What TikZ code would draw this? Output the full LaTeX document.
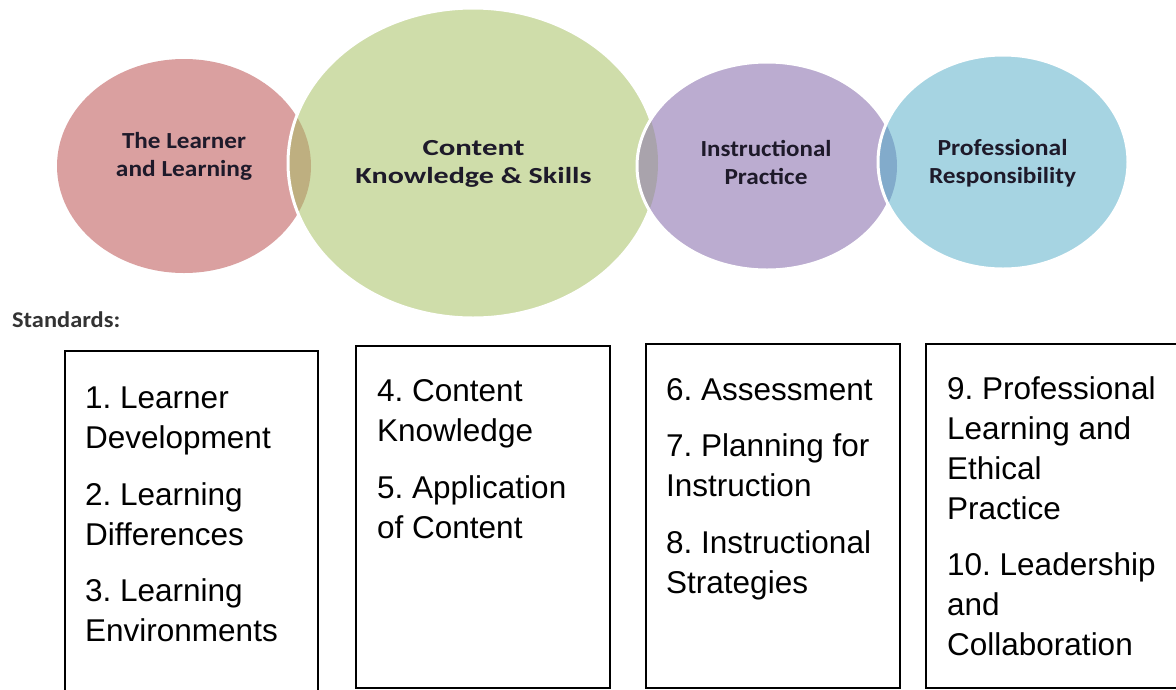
\documentclass[tikz,border=0pt]{standalone}
\usepackage{fontspec}
\setmainfont{Liberation Sans}
\newfontfamily\calib{Carlito}
\usepackage{graphicx}
\frenchspacing
\definecolor{cpink}{HTML}{DAA0A0}
\definecolor{cgreen}{HTML}{CFDDAA}
\definecolor{cpurple}{HTML}{BBACD0}
\definecolor{cblue}{HTML}{A6D4E2}
\definecolor{lpg}{HTML}{BEAF80}
\definecolor{lgp}{HTML}{A9A3AC}
\definecolor{lpb}{HTML}{82ABCB}
\definecolor{labelcol}{HTML}{1E1A2A}
\definecolor{stdcol}{HTML}{333333}
\tikzset{
  vennedge/.style={draw=white, line width=3pt},
  clabel/.style={font=\calib\bfseries\fontsize{23}{28}\selectfont, text=labelcol, align=center, inner sep=0pt, anchor=north},
  stdbox/.style={draw=black, line width=1.8pt, inner sep=0pt, anchor=north west},
  stdtext/.style={font=\frenchspacing\fontsize{31.5}{40}\selectfont, align=left, inner sep=0pt, anchor=north west},
}
\begin{document}
\frenchspacing
\begin{tikzpicture}[x=1pt,y=-1pt]
\useasboundingbox (0,0) rectangle (1176,689);
\clip (0,0) rectangle (1176,689);
\fill[white] (0,0) rectangle (1176,689);
% pink
\fill[cpink] (184,166) ellipse [x radius=127, y radius=107];
% green
\fill[cgreen] (473,163) ellipse [x radius=185, y radius=155];
\begin{scope}
  \clip (184,166) ellipse [x radius=127, y radius=107];
  \fill[lpg] (473,163) ellipse [x radius=185, y radius=155];
\end{scope}
\draw[vennedge] (473,163) ellipse [x radius=185, y radius=155];
% purple
\fill[cpurple] (767,166) ellipse [x radius=130, y radius=104];
\begin{scope}
  \clip (473,163) ellipse [x radius=185, y radius=155];
  \fill[lgp] (767,166) ellipse [x radius=130, y radius=104];
\end{scope}
\draw[vennedge] (767,166) ellipse [x radius=130, y radius=104];
% blue
\fill[cblue] (1003,162) ellipse [x radius=125, y radius=107];
\begin{scope}
  \clip (767,166) ellipse [x radius=130, y radius=104];
  \fill[lpb] (1003,162) ellipse [x radius=125, y radius=107];
\end{scope}
\draw[vennedge] (1003,162) ellipse [x radius=125, y radius=107];

% circle labels
\node[clabel] (lpink) at (184,128.7) {\strut\resizebox{124pt}{\height}{The Learner}\\\resizebox{136pt}{\height}{and Learning}};
\node[clabel] (lgreen) at (473.5,135.4) {\strut\resizebox{102pt}{\height}{Content}\\\resizebox{236pt}{\height}{Knowledge \& Skills}};
\node[clabel] (lpurple) at (766,136.4) {\strut\resizebox{131pt}{\height}{Instructional}\\\resizebox{83pt}{\height}{Practice}};
\node[clabel] (lblue) at (1002.5,135.4) {\strut\resizebox{130pt}{\height}{Professional}\\\resizebox{147pt}{\height}{Responsibility}};

% Standards label
\node[font=\calib\bfseries\fontsize{22.5}{27}\selectfont, text=stdcol, inner sep=0pt, anchor=base west] (std) at (12,327.3) {\resizebox{108pt}{\height}{Standards:}};

% boxes
\node[stdbox, minimum width=253pt, minimum height=360pt] (b1) at (64,350) {};
\node[stdbox, minimum width=254pt, minimum height=342pt] (b2) at (355,345) {};
\node[stdbox, minimum width=254pt, minimum height=344pt] (b3) at (645,343) {};
\node[stdbox, minimum width=270pt, minimum height=344pt] (b4) at (925,343) {};

% box texts
\node[stdtext] (t1) at (85,380.3) {\strut 1. Learner\\Development\\[16.5pt]2. Learning\\Differences\\[16.5pt]3. Learning\\Environments};
\node[stdtext] (t2) at (377,373.7) {\strut 4. Content\\Knowledge\\[16.5pt]5. Application\\of Content};
\node[stdtext] (t3) at (666,372) {\strut 6. Assessment\\[16.5pt]7. Planning for\\Instruction\\[16.5pt]8. Instructional\\Strategies};
\node[stdtext] (t4) at (947,371) {\strut 9. Professional\\Learning and\\Ethical\\Practice\\[16.5pt]10. Leadership\\and\\Collaboration};
\end{tikzpicture}
\end{document}
